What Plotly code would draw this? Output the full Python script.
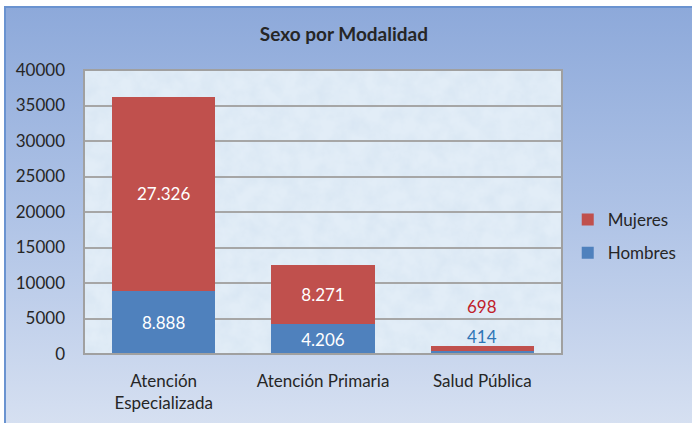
import base64
import plotly.graph_objects as go

categories = ["Atención<br>Especializada", "Atención Primaria", "Salud Pública"]
hombres = [8888, 4206, 414]
mujeres = [27326, 8271, 698]
hombres_labels = ["8.888", "4.206", "414"]
mujeres_labels = ["27.326", "8.271", "698"]
y_ticks = [0, 5000, 10000, 15000, 20000, 25000, 30000, 35000, 40000]

FONT = "Lato"
RED = "#C0504D"
BLUE = "#4F81BD"

def svg_uri(svg):
    return "data:image/svg+xml;base64," + base64.b64encode(svg.encode()).decode()

outer_svg = """<svg xmlns='http://www.w3.org/2000/svg' width='700' height='430' preserveAspectRatio='none'>
<defs><linearGradient id='g' x1='0' y1='0' x2='0' y2='1'>
<stop offset='0' stop-color='#8DA9DA'/><stop offset='0.5' stop-color='#AFC3E6'/><stop offset='1' stop-color='#D6E0F1'/>
</linearGradient></defs>
<rect width='700' height='430' fill='url(#g)'/></svg>"""

plot_svg = """<svg xmlns='http://www.w3.org/2000/svg' width='480' height='285' preserveAspectRatio='none'>
<defs><filter id='t' x='0' y='0' width='100%' height='100%'>
<feTurbulence type='fractalNoise' baseFrequency='0.06' numOctaves='4' seed='3'/>
<feColorMatrix type='matrix' values='0 0 0 0 0.70  0 0 0 0 0.80  0 0 0 0 0.90  0 0 0 1.8 -0.55'/>
</filter></defs>
<rect width='480' height='285' fill='#E2EDF7'/>
<rect width='480' height='285' filter='url(#t)'/></svg>"""

fig = go.Figure()
fig.add_trace(go.Bar(
    x=categories, y=hombres, name="Hombres", marker_color=BLUE,
    text=[hombres_labels[0], hombres_labels[1], ""], textposition="inside",
    insidetextanchor="middle", textfont=dict(color="white", size=17, family=FONT),
    legendgroup="h", legendrank=2, marker_line_width=0))
fig.add_trace(go.Bar(
    x=categories, y=mujeres, name="Mujeres", marker_color=RED,
    text=[mujeres_labels[0], mujeres_labels[1], ""], textposition="inside",
    insidetextanchor="middle", textfont=dict(color="white", size=17, family=FONT),
    legendgroup="m", legendrank=1, marker_line_width=0))

total_sp = hombres[2] + mujeres[2]
fig.add_annotation(x=categories[2], y=total_sp, text=hombres_labels[2], showarrow=False,
                   yanchor="bottom", yshift=-3, font=dict(color="#2E75B6", size=17, family=FONT))
fig.add_annotation(x=categories[2], y=total_sp, text=mujeres_labels[2], showarrow=False,
                   yanchor="bottom", yshift=27, font=dict(color="#C0202A", size=17, family=FONT))

fig.add_layout_image(dict(source=svg_uri(outer_svg), xref="paper", yref="paper",
                          x=-84/478 + 5/478, y=1 + 63/284, sizex=688/478, sizey=418/284,
                          xanchor="left", yanchor="top", sizing="stretch", layer="below"))
fig.add_layout_image(dict(source=svg_uri(plot_svg), xref="paper", yref="paper",
                          x=0, y=1, sizex=1, sizey=1, xanchor="left", yanchor="top",
                          sizing="stretch", layer="below"))
# chart frame border
fig.add_shape(type="rect", xref="paper", yref="paper",
              x0=-79/478, x1=1 + 140/478, y0=-80/284, y1=1 + 63/284,
              line=dict(color="#6A93D0", width=2), fillcolor="rgba(0,0,0,0)", layer="below")
# plot area border
fig.add_shape(type="rect", xref="paper", yref="paper", x0=0, x1=1, y0=0, y1=1,
              line=dict(color="#A0A0A0", width=2), fillcolor="rgba(0,0,0,0)")

fig.update_layout(
    width=692, height=423,
    margin=dict(l=84, r=130, t=70, b=69, autoexpand=False),
    paper_bgcolor="white", plot_bgcolor="rgba(0,0,0,0)",
    barmode="stack", bargap=0.35,
    font=dict(family=FONT, size=17, color="#262626"),
    title=dict(text="<b>Sexo por Modalidad</b>", x=0.497, xanchor="center",
               y=0.918, yanchor="middle", font=dict(family=FONT, size=19, color="#262626")),
    legend=dict(x=1.012, y=0.535, xanchor="left", yanchor="top",
                traceorder="grouped", tracegroupgap=8,
                font=dict(family=FONT, size=17, color="#262626"),
                bgcolor="rgba(0,0,0,0)", itemwidth=30),
    showlegend=True,
)
fig.update_yaxes(range=[0, 40000], tickvals=y_ticks, ticktext=[str(v) for v in y_ticks],
                 showgrid=True, gridcolor="#A6A6A6", gridwidth=2, zeroline=False,
                 ticks="", ticklabelstandoff=18, showline=False)
fig.update_xaxes(showgrid=False, ticks="", showline=False, ticklabelstandoff=15)

fig.write_html("out.html", config={"displayModeBar": False},
               post_script="document.body.style.margin='0';document.body.style.overflow='hidden';")
